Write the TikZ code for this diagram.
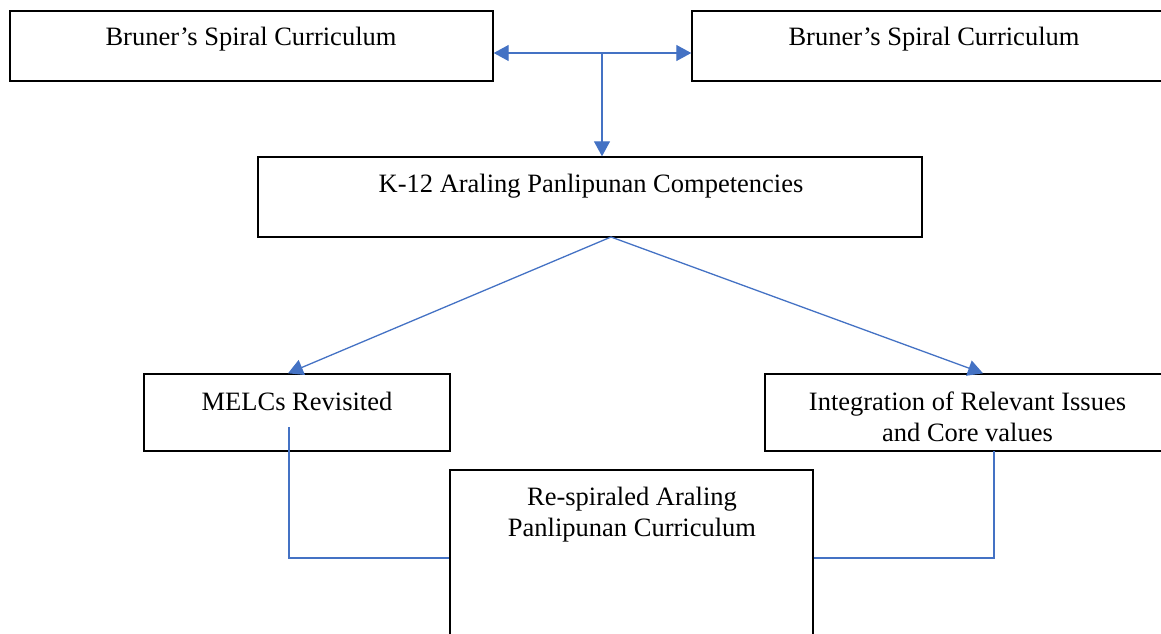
\documentclass[tikz,border=0pt]{standalone}
\usepackage{fontspec}
\setmainfont{Liberation Serif}
\usetikzlibrary{arrows.meta,calc}
\definecolor{myblue}{RGB}{68,114,196}
\begin{document}
\begin{tikzpicture}[x=1pt,y=-1pt,
  box/.style={draw=black,line width=1.4pt,inner sep=0pt},
  lbl/.style={font=\fontsize{26.5}{31}\selectfont,anchor=base,align=center,inner sep=0pt},
  conn/.style={draw=myblue,line width=1.3pt},
  tip/.tip={Triangle[length=15pt,width=16pt]},
  arr/.style={conn,-tip}]
\useasboundingbox (0,0) rectangle (1161,634);
\clip (0,0) rectangle (1161,634);
% boxes
\node[box,minimum width=483pt,minimum height=70pt] (b1) at (251.5,46) {};
\node[box,minimum width=483pt,minimum height=70pt] (b2) at (933.5,46) {};
\node[box,minimum width=664pt,minimum height=80pt] (b3) at (590,197) {};
\node[box,minimum width=306pt,minimum height=77pt] (b4) at (297,412.5) {};
\node[box,minimum width=410pt,minimum height=77pt] (b5) at (970,412.5) {};
\node[box,minimum width=363pt,minimum height=230pt] (b6) at (631.5,585) {};
% labels
\node[lbl] (t1) at (251,46) {Bruner’s Spiral Curriculum};
\node[lbl] (t2) at (934,46) {Bruner’s Spiral Curriculum};
\node[lbl] (t3) at (591,192) {K-12 Araling Panlipunan Competencies};
\node[lbl] (t4) at (297,410) {MELCs Revisited};
\node[lbl] (t5) at (967.5,441) {Integration of Relevant Issues\\and Core values};
\node[lbl] (t6) at (632,536) {Re-spiraled Araling\\Panlipunan Curriculum};
% connectors
\coordinate (hub) at (602,53);
\draw[conn,tip-tip] (b1.east |- hub) -- (b2.west |- hub);
\draw[arr] (hub) -- (b3.north -| hub);
\coordinate (fork) at (611,237);
\draw[arr] (fork) -- ($(b4.north)+(-9,0)$);
\draw[arr] (fork) -- ($(b5.north)+(13,0)$);
\coordinate (j) at (0,558);
\coordinate (e4) at (289,427);
\coordinate (e5) at (994,451);
\draw[conn] (e4) |- (b6.west |- j);
\draw[conn] (e5) |- (b6.east |- j);
\end{tikzpicture}
\end{document}
